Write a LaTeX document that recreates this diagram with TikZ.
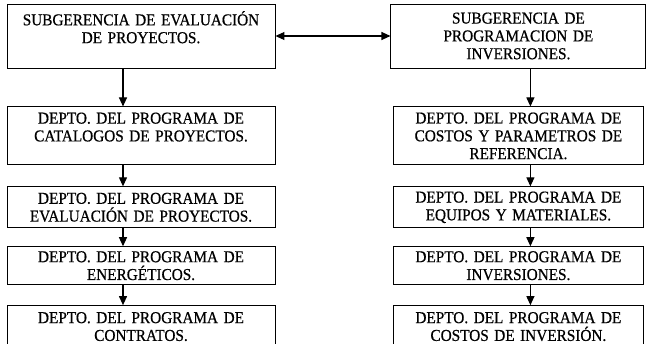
\documentclass[tikz,border=0pt]{standalone}
\usepackage{fontspec}
\setmainfont[FakeStretch=0.92, FakeBold=0.6]{Liberation Serif}
\usetikzlibrary{arrows.meta,positioning}

\begin{document}
\begin{tikzpicture}[
  font=\fontsize{16.6}{17.8}\selectfont,
  box/.style={draw, line width=0.9pt, align=center, inner sep=2pt, text width=#1-8pt, minimum width=#1},
  box/.default=268pt,
  arr/.style={-{Triangle[length=9pt, width=8pt]}, line width=1.1pt},
  both/.style={{Triangle[length=9pt, width=8pt]}-{Triangle[length=9pt, width=8pt]}, line width=1.1pt}
]
\useasboundingbox (0,0) rectangle (652pt,-344pt);

\node[box, minimum height=64pt] (subeval) at (141pt,-36pt) {SUBGERENCIA DE EVALUACIÓN\\DE PROYECTOS.\\\mbox{}};
\node[box=255pt, minimum height=64pt, right=115pt of subeval] (subprog) {SUBGERENCIA DE\\PROGRAMACION DE\\INVERSIONES.};

\node[box, minimum height=58pt, below=38pt of subeval] (catalogos) {DEPTO. DEL PROGRAMA DE\\CATALOGOS DE PROYECTOS.\\\mbox{}};
\node[box, minimum height=41pt, below=21pt of catalogos] (evaluacion) {DEPTO. DEL PROGRAMA DE\\EVALUACIÓN DE PROYECTOS.};
\node[box, minimum height=38pt, below=18pt of evaluacion] (energeticos) {DEPTO. DEL PROGRAMA DE\\ENERGÉTICOS.};
\node[box, minimum height=42pt, below=20pt of energeticos] (contratos) {DEPTO. DEL PROGRAMA DE\\CONTRATOS.};

\node[box=250pt, minimum height=58pt, below=38pt of subprog] (costos) {DEPTO. DEL PROGRAMA DE\\COSTOS Y PARAMETROS DE\\REFERENCIA.};
\node[box=250pt, minimum height=41pt, below=21pt of costos] (equipos) {DEPTO. DEL PROGRAMA DE\\EQUIPOS Y MATERIALES.};
\node[box=250pt, minimum height=38pt, below=18pt of equipos] (inversiones) {DEPTO. DEL PROGRAMA DE\\INVERSIONES.};
\node[box=250pt, minimum height=42pt, below=20pt of inversiones] (costinv) {DEPTO. DEL PROGRAMA DE\\COSTOS DE INVERSIÓN.};

\draw[both] (subeval) -- (subprog);

\draw[arr] ([xshift=-18pt]subeval.south) -- ([xshift=-18pt]catalogos.north);
\draw[arr] ([xshift=-18pt]catalogos.south) -- ([xshift=-18pt]evaluacion.north);
\draw[arr] ([xshift=-18pt]evaluacion.south) -- ([xshift=-18pt]energeticos.north);
\draw[arr] ([xshift=-18pt]energeticos.south) -- ([xshift=-18pt]contratos.north);

\draw[arr] ([xshift=12pt]subprog.south) -- ([xshift=12pt]costos.north);
\draw[arr] ([xshift=12pt]costos.south) -- ([xshift=12pt]equipos.north);
\draw[arr] ([xshift=12pt]equipos.south) -- ([xshift=12pt]inversiones.north);
\draw[arr] ([xshift=12pt]inversiones.south) -- ([xshift=12pt]costinv.north);
\end{tikzpicture}
\end{document}
